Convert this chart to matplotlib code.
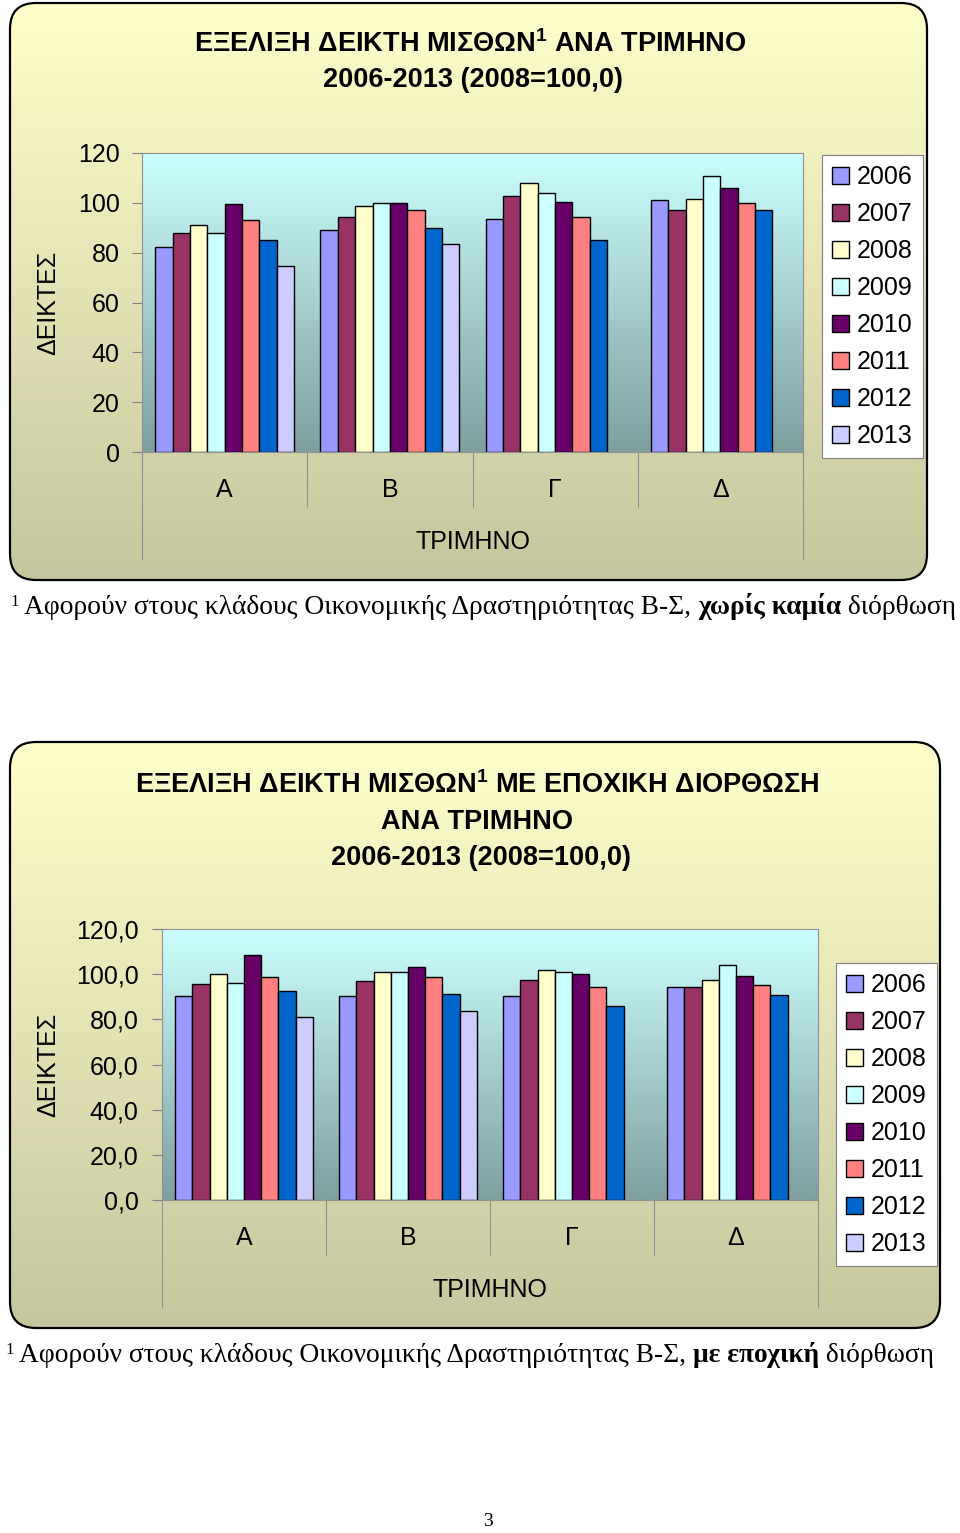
import numpy as np
import matplotlib.pyplot as plt
from matplotlib.patches import FancyBboxPatch
from matplotlib.colors import LinearSegmentedColormap

plt.rcParams['font.family'] = ['Liberation Sans', 'DejaVu Sans']
plt.rcParams['mathtext.fontset'] = 'custom'
plt.rcParams['mathtext.rm'] = 'Liberation Sans'
plt.rcParams['mathtext.bf'] = 'Liberation Sans:bold'

# data (index 2008=100)
quarters = ['Α', 'Β', 'Γ', 'Δ']
years = ['2006', '2007', '2008', '2009', '2010', '2011', '2012', '2013']
colors = ['#9999FF', '#993366', '#FFFFCC', '#CCFFFF',
          '#660066', '#FF8080', '#0066CC', '#CCCCFF']

# without seasonal adjustment, one row per year, columns = quarters
raw_index = [
    [82.2, 89.0, 93.5, 101.1],
    [87.7, 94.5, 102.8, 97.2],
    [91.0, 98.8, 107.8, 101.6],
    [87.7, 99.9, 103.9, 110.6],
    [99.5, 100.1, 100.5, 106.0],
    [93.3, 97.2, 94.5, 100.0],
    [85.1, 90.1, 85.1, 97.2],
    [74.6, 83.4, np.nan, np.nan],
]
# seasonally adjusted
sa_index = [
    [90.3, 90.3, 90.3, 94.5],
    [95.7, 96.8, 97.4, 94.5],
    [100.0, 101.1, 101.9, 97.4],
    [96.3, 101.1, 101.1, 104.2],
    [108.5, 103.0, 100.0, 99.4],
    [98.8, 98.8, 94.5, 95.1],
    [92.6, 91.4, 86.1, 90.9],
    [81.0, 83.6, np.nan, np.nan],
]
yticks = [0, 20, 40, 60, 80, 100, 120]
raw_ticklabels = ['0', '20', '40', '60', '80', '100', '120']
sa_ticklabels = ['0,0', '20,0', '40,0', '60,0', '80,0', '100,0', '120,0']

W, H = 960, 1533
fig = plt.figure(figsize=(W / 100, H / 100), dpi=100)
fig.patch.set_facecolor('white')

# background layer in pixel units
bg = fig.add_axes([0, 0, 1, 1])
bg.set_xlim(0, W)
bg.set_ylim(H, 0)
bg.axis('off')

panel_cmap = LinearSegmentedColormap.from_list('panel', ['#FFFFCC', '#C6C69E'])
plot_cmap = LinearSegmentedColormap.from_list('plotarea', ['#CCFFFF', '#7F9F9F'])
grad = np.linspace(0, 1, 256).reshape(-1, 1)


def panel(x0, y0, x1, y1):
    box = FancyBboxPatch((x0, y0), x1 - x0, y1 - y0,
                         boxstyle='round,pad=0,rounding_size=26',
                         facecolor='none', edgecolor='black', linewidth=1.6, zorder=3)
    bg.add_patch(box)
    im = bg.imshow(grad, extent=(x0, x1, y1, y0), cmap=panel_cmap,
                   aspect='auto', zorder=1)
    im.set_clip_path(box)


panel(10, 3, 927, 580)
panel(10, 742, 940, 1328)
bg.set_xlim(0, W)
bg.set_ylim(H, 0)


def draw_chart(rect, values, ticklabels, leg_xy, inner_drop, outer_drop, xlabel_y, ypad):
    ax = fig.add_axes(rect)
    ax.set_facecolor('none')
    ax.imshow(grad, extent=(-0.5, 3.5, 0, 120), cmap=plot_cmap, aspect='auto', zorder=0)
    x = np.arange(len(quarters))
    w = 0.105
    for i, yr in enumerate(years):
        ax.bar(x + (i - 3.5) * w, values[i], w, color=colors[i],
               edgecolor='black', linewidth=1, label=yr, zorder=2)
    ax.set_xlim(-0.5, 3.5)
    ax.set_ylim(0, 120)
    ax.set_yticks(yticks)
    ax.set_yticklabels(ticklabels)
    ax.set_xticks(x)
    ax.set_xticklabels(quarters)
    ax.tick_params(axis='y', length=7, width=0.8, color='#808080', pad=ypad, labelsize=18)
    ax.tick_params(axis='x', length=0, pad=19, labelsize=18)
    for s in ax.spines.values():
        s.set_color('#909090')
        s.set_linewidth(0.8)
    # category separators below the plot area
    ax.vlines([0.5, 1.5, 2.5], 0, inner_drop, transform=ax.get_xaxis_transform(),
              color='#909090', linewidth=0.8, clip_on=False)
    ax.vlines([-0.5, 3.5], 0, outer_drop, transform=ax.get_xaxis_transform(),
              color='#909090', linewidth=0.8, clip_on=False)
    ax.set_ylabel('ΔΕΙΚΤΕΣ', fontsize=18, va='center')
    ax.yaxis.set_label_coords((48 - rect[0] * W) / (rect[2] * W), 0.5)
    ax.set_xlabel('ΤΡΙΜΗΝΟ', fontsize=18, va='center')
    ax.xaxis.set_label_coords(0.5, xlabel_y)
    leg = ax.legend(loc='upper left', bbox_to_anchor=(leg_xy[0] / W, 1 - leg_xy[1] / H),
                    bbox_transform=fig.transFigure, fancybox=False, edgecolor='#808080',
                    facecolor='white', framealpha=1, fontsize=18, handlelength=0.68,
                    handleheight=0.68, handletextpad=0.32, labelspacing=0.52,
                    borderpad=0.4, borderaxespad=0)
    leg.get_frame().set_linewidth(0.8)
    return ax


draw_chart([142 / W, 1 - 452 / H, 661 / W, 299 / H], raw_index, raw_ticklabels,
           (822, 155), -55 / 299, -108 / 299, (452 - 542) / 299, 9)
draw_chart([162 / W, 1 - 1200 / H, 656 / W, 271 / H], sa_index, sa_ticklabels,
           (836, 963), -55 / 271, -108 / 271, (1200 - 1290) / 271, 10)

# titles
bg.text(470, 44, r'ΕΞΕΛΙΞΗ ΔΕΙΚΤΗ ΜΙΣΘΩΝ$^{\mathbf{1}}$ ΑΝΑ ΤΡΙΜΗΝΟ', fontsize=19.5,
        fontweight='bold', ha='center', va='center', zorder=5)
bg.text(473, 80, '2006-2013 (2008=100,0)', fontsize=19.5, fontweight='bold',
        ha='center', va='center', zorder=5)
bg.text(477, 785, r'ΕΞΕΛΙΞΗ ΔΕΙΚΤΗ ΜΙΣΘΩΝ$^{\mathbf{1}}$ ΜΕ ΕΠΟΧΙΚΗ ΔΙΟΡΘΩΣΗ',
        fontsize=19.5, fontweight='bold', ha='center', va='center', zorder=5)
bg.text(477, 822, 'ΑΝΑ ΤΡΙΜΗΝΟ', fontsize=19.5, fontweight='bold',
        ha='center', va='center', zorder=5)
bg.text(481, 858, '2006-2013 (2008=100,0)', fontsize=19.5, fontweight='bold',
        ha='center', va='center', zorder=5)

# footnotes in serif with a bold part
serif = ['Liberation Serif', 'DejaVu Serif']


def footnote(x, y, bold_part, size):
    bg.text(x - 14, y - 8, '1', fontsize=12, family=serif, va='baseline')
    t1 = bg.text(x, y, 'Αφορούν στους κλάδους Οικονομικής Δραστηριότητας Β-Σ, ',
                 fontsize=size, family=serif, va='baseline')
    t2 = bg.annotate(bold_part, xy=(1, 0), xycoords=t1, fontsize=size, family=serif,
                     fontweight='bold', va='bottom')
    bg.annotate(' διόρθωση', xy=(1, 0), xycoords=t2, fontsize=size, family=serif,
                va='bottom')


footnote(24, 614, 'χωρίς καμία', 19.85)
footnote(19, 1362, 'με εποχική', 19.8)

bg.text(488, 1522, '3', fontsize=14, family=serif, ha='center', va='center')

fig.savefig('out.png', dpi=100)
